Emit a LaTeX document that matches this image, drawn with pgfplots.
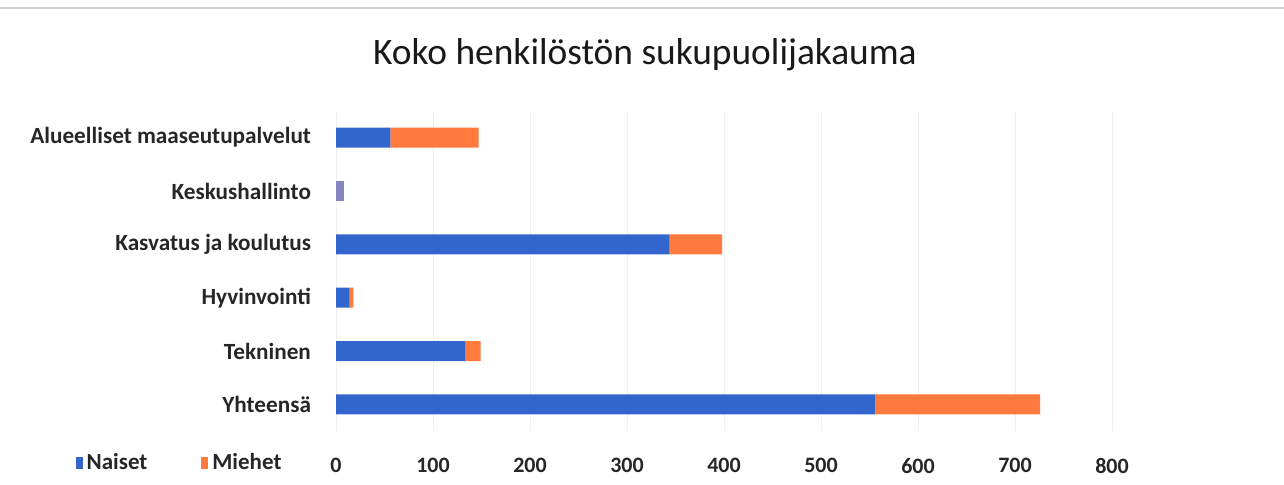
\documentclass[border=0pt]{standalone}
\usepackage{pgfplots}
\pgfplotsset{compat=1.18}
\usepackage{pgfplotstable}
\usepackage{fontspec}
\setmainfont{Carlito}
\definecolor{naiset}{HTML}{3366CC}
\definecolor{miehet}{HTML}{FF7A3C}
\definecolor{keskus}{HTML}{8585C2}

% columns: row (0 = bottom), women, the lavender Keskushallinto bar, men
\pgfplotstableread{
y naiset ke miehet
0 556 0 170
1 133 0 16
2 14 0 4
3 344 0 54
4 0 8 0
5 56 0 91
}\data

\begin{document}
\begin{tikzpicture}
\path[use as bounding box] (0,0) rectangle (642pt,-242pt);
\draw[gray!35, line width=1pt] (0,-4pt) -- (642pt,-4pt);
\node[font=\fontsize{18.7}{22}\selectfont, text=black!90] at (322.5pt,-27.5pt) {Koko henkilöstön sukupuolijakauma};
\begin{axis}[
    at={(168pt,-215.5pt)}, anchor=south west,
    scale only axis,
    width=388pt, height=160pt,
    xbar stacked,
    bar width=10pt,
    xmin=0, xmax=800,
    ymin=-0.5, ymax=5.5,
    xtick={0,100,...,800},
    ytick={0,...,5},
    yticklabels={Yhteensä,Tekninen,Hyvinvointi,Kasvatus ja koulutus,Keskushallinto,Alueelliset maaseutupalvelut},
    axis line style={draw=none},
    tick style={draw=none},
    xmajorgrids=true,
    grid style={gray!12},
    /pgf/number format/assume math mode=true,
    ticklabel style={font=\fontsize{11}{13}\selectfont\bfseries, text=black!85},
    yticklabel style={font=\fontsize{11.6}{13}\selectfont\bfseries, xshift=-9pt},
    xticklabel style={yshift=-10pt},
    legend style={at={(-0.336,-0.1)}, anchor=west, draw=none, fill=none,
        legend columns=2, font=\fontsize{11.5}{13}\selectfont\bfseries, text=black!85,
        /tikz/every even column/.append style={column sep=25pt},
        inner sep=0pt},
    legend image code/.code={\fill[#1] (0pt,-3pt) rectangle (3.5pt,3pt);},
]
\addplot[fill=naiset, draw=none] table[x=naiset, y=y] {\data};
\addplot[fill=keskus, draw=none, forget plot] table[x=ke, y=y] {\data};
\addplot[fill=miehet, draw=none] table[x=miehet, y=y] {\data};
\legend{Naiset, Miehet}
\end{axis}
\end{tikzpicture}
\end{document}
